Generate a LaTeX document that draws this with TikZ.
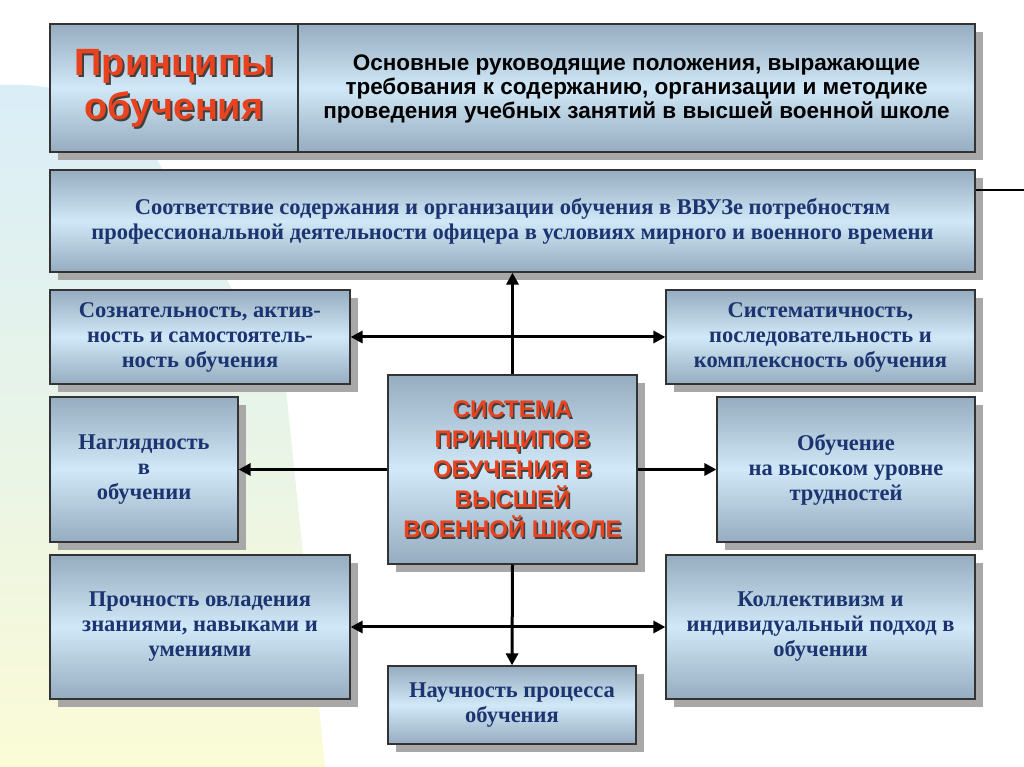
\documentclass[tikz,border=0pt]{standalone}
\usepackage{fontspec}
\setmainfont{Liberation Serif}
\newfontfamily\headsans{Liberation Sans}
\usetikzlibrary{shadows,arrows.meta,calc}

\definecolor{navy}{RGB}{28,52,112}
\definecolor{redt}{RGB}{232,66,30}
\definecolor{boxtop}{RGB}{150,172,192}
\definecolor{boxmid}{RGB}{208,232,247}
\definecolor{shadowgray}{RGB}{168,168,168}
\definecolor{bgblue}{RGB}{218,238,248}
\definecolor{bgmid}{RGB}{232,244,232}
\definecolor{bgyellow}{RGB}{251,251,214}

\begin{document}
\begin{tikzpicture}[x=1pt,y=1pt,
  box/.style={draw=black!80, line width=1.2pt, top color=boxtop, bottom color=boxtop, middle color=boxmid,
    drop shadow={shadow xshift=8pt, shadow yshift=-8pt, fill=shadowgray, opacity=1},
    align=center, inner sep=3pt, text=navy, font=\fontsize{22.5}{25}\selectfont\bfseries},
  headtext/.style={align=center, text=black, font=\headsans\fontsize{22.5}{24}\selectfont\bfseries},
  titletext/.style={align=center, font=\headsans\fontsize{38}{44}\selectfont\bfseries},
  centertext/.style={align=center, font=\headsans\fontsize{24}{30}\selectfont\bfseries},
  link/.style={line width=3pt, draw=black},
  onetip/.style={-{Triangle[length=12pt,width=12pt]}},
  twotip/.style={{Triangle[length=12pt,width=12pt]}-{Triangle[length=12pt,width=12pt]}}
]
\useasboundingbox (0,0) rectangle (1024,767);
\fill[white] (0,0) rectangle (1024,767);
\shade[top color=bgblue, bottom color=bgyellow, middle color=bgmid]
  (0,682) .. controls (80,687) and (140,647) .. (160,602) -- (285,387) -- (325,0) -- (0,0) -- cycle;

% header
\node[box, minimum width=248pt, minimum height=128pt] (hdrL) at (174,679) {};
\node[box, minimum width=677pt, minimum height=128pt] (hdrR) at (636.5,679) {};
\node[titletext, text=black!75] (titleS) at ($(hdrL.center)+(2,-2)$) {Принципы\\обучения};
\node[titletext, text=redt] (title) at (hdrL.center) {Принципы\\обучения};
\node[headtext] (defn) at ($(hdrR.center)+(0,-1)$) {Основные руководящие положения, выражающие\\требования к содержанию, организации и методике\\проведения учебных занятий в высшей военной школе};

% top box
\node[box, minimum width=925pt, minimum height=102pt] (top) at (512.5,546) {Соответствие содержания и организации обучения в ВВУЗе потребностям\\профессиональной деятельности офицера в условиях мирного и военного времени};
\coordinate (edge) at (1024,577);

% side boxes
\node[box, minimum width=300pt, minimum height=94pt] (L1) at (200,430) {Сознательность, актив-\\ность и самостоятель-\\ность обучения};
\node[box, minimum width=309pt, minimum height=94pt] (R1) at (820.5,430) {Систематичность,\\последовательность и\\комплексность обучения};
\node[box, minimum width=188pt, minimum height=145pt] (L2) at (144,297.5) {Наглядность\\в\\обучении};
\node[box, minimum width=258pt, minimum height=145pt] (R2) at (846,297.5) {Обучение\\на высоком уровне\\трудностей};
\node[box, minimum width=300pt, minimum height=144pt] (L3) at (200,140) {Прочность овладения\\знаниями, навыками и\\умениями};
\node[box, minimum width=309pt, minimum height=144pt] (R3) at (820.5,140) {Коллективизм и\\индивидуальный подход в\\обучении};
\node[box, minimum width=248pt, minimum height=78pt] (B) at (512,62) {Научность процесса\\обучения};

% center
\node[box, minimum width=249pt, minimum height=189pt] (C) at (512.5,297.5) {};
\node[centertext, text=black!75] (centerS) at ($(C.center)+(1.5,-1.5)$) {СИСТЕМА\\ПРИНЦИПОВ\\ОБУЧЕНИЯ В\\ВЫСШЕЙ\\ВОЕННОЙ ШКОЛЕ};
\node[centertext, text=redt] (centerT) at (C.center) {СИСТЕМА\\ПРИНЦИПОВ\\ОБУЧЕНИЯ В\\ВЫСШЕЙ\\ВОЕННОЙ ШКОЛЕ};

% connectors
\draw[link, onetip] (C.north) -- (top.south);
\draw[link, twotip] (L1.east) -- (R1.west);
\draw[link, onetip] (C.west) -- (L2.east);
\draw[link, onetip] (C.east) -- (R2.west);
\draw[link, twotip] (L3.east) -- (R3.west);
\draw[link, onetip] (C.south) -- (B.north);
\draw[line width=1.2pt] (edge -| top.east) -- (edge);
\end{tikzpicture}
\end{document}
